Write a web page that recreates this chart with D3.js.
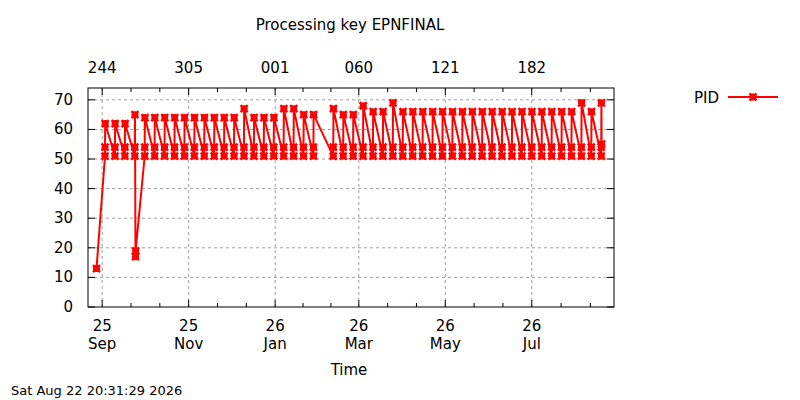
<!DOCTYPE html>
<html>
<head>
<meta charset="utf-8">
<script src="https://cdn.jsdelivr.net/npm/d3@7"></script>
<style>
  body { margin: 0; background: #fff; }
  text { font-family: "DejaVu Sans", sans-serif; fill: #000; }
</style>
</head>
<body>
<svg width="800" height="400"></svg>
<script>
// weekly processing cycles: start date + peak PID value
const cycleDates = [
  "2025-09-03", "2025-09-10", "2025-09-17", "2025-09-24", "2025-10-01", "2025-10-08",
  "2025-10-15", "2025-10-22", "2025-10-29", "2025-11-05", "2025-11-12", "2025-11-19",
  "2025-11-26", "2025-12-03", "2025-12-10", "2025-12-17", "2025-12-24", "2025-12-31",
  "2026-01-07", "2026-01-14", "2026-01-21", "2026-01-28", "2026-02-11", "2026-02-18",
  "2026-02-25", "2026-03-04", "2026-03-11", "2026-03-18", "2026-03-25", "2026-04-01",
  "2026-04-08", "2026-04-15", "2026-04-22", "2026-04-29", "2026-05-06", "2026-05-13",
  "2026-05-20", "2026-05-27", "2026-06-03", "2026-06-10", "2026-06-17", "2026-06-24",
  "2026-07-01", "2026-07-08", "2026-07-15", "2026-07-22", "2026-07-29", "2026-08-05",
  "2026-08-12", "2026-08-19"
];
const cyclePeaks = [
  62, 62, 62, 65, 64, 64,
  64, 64, 64, 64, 64, 64,
  64, 64, 67, 64, 64, 64,
  67, 67, 65, 65, 67, 65,
  65, 68, 66, 66, 69, 66,
  66, 66, 66, 66, 66, 66,
  66, 66, 66, 66, 66, 66,
  66, 66, 66, 66, 66, 69,
  66, 69
];
const lowValue = 51;
const midValue = 54;
const firstPoint = { date: "2025-08-28", value: 13 };
const dipPoints = [{ date: "2025-09-24T12:00", value: 17 }, { date: "2025-09-24T14:00", value: 19 }];
const endValue = 55;

const topTickLabels = ["244", "305", "001", "060", "121", "182"];
const bottomTickDates = ["2025-09-01", "2025-11-01", "2026-01-01", "2026-03-01", "2026-05-01", "2026-07-01"];
const yTicks = [0, 10, 20, 30, 40, 50, 60, 70];

// build the point list
const pts = [{ t: new Date(firstPoint.date), v: firstPoint.value }];
cycleDates.forEach((d, i) => {
  const t = new Date(d);
  pts.push({ t: t, v: lowValue });
  pts.push({ t: t, v: midValue });
  pts.push({ t: new Date(+t + 3600e3 * 3), v: cyclePeaks[i] });
  if (i == 3) dipPoints.forEach(p => pts.push({ t: new Date(p.date), v: p.value }));
});
pts.push({ t: new Date(+new Date(cycleDates[cycleDates.length - 1]) + 3600e3 * 6), v: endValue });

const svg = d3.select("svg");
const pLeft = 88, pRight = 614, pTop = 88, pBottom = 307;

const x = d3.scaleTime()
  .domain([new Date("2025-08-22"), new Date("2026-08-28")])
  .range([pLeft, pRight]);
const y = d3.scaleLinear().domain([0, 74]).range([pBottom, pTop]);

const majors = bottomTickDates.map(d => new Date(d));
const minors = [];
majors.forEach((m, i) => {
  const next = i < majors.length - 1 ? majors[i + 1] : d3.timeMonth.offset(m, 2);
  for (let k = 1; k < 3; k++) minors.push(new Date(+m + (next - m) * k / 3));
});
minors.unshift(new Date(+majors[0] - (majors[1] - majors[0]) / 3));

// grid
const grid = svg.append("g").attr("stroke", "#a0a0a0").attr("stroke-dasharray", "3,3").attr("stroke-width", 1);
majors.forEach(m => grid.append("line").attr("x1", x(m)).attr("x2", x(m)).attr("y1", pTop).attr("y2", pBottom));
yTicks.slice(1).forEach(v => grid.append("line").attr("x1", pLeft).attr("x2", pRight).attr("y1", y(v)).attr("y2", y(v)));

// ticks
const tk = svg.append("g").attr("stroke", "#000").attr("stroke-width", 1);
majors.forEach(m => {
  tk.append("line").attr("x1", x(m)).attr("x2", x(m)).attr("y1", pBottom).attr("y2", pBottom - 7);
  tk.append("line").attr("x1", x(m)).attr("x2", x(m)).attr("y1", pTop).attr("y2", pTop + 7);
});
minors.filter(m => x(m) > pLeft && x(m) < pRight).forEach(m => {
  tk.append("line").attr("x1", x(m)).attr("x2", x(m)).attr("y1", pBottom).attr("y2", pBottom - 4);
  tk.append("line").attr("x1", x(m)).attr("x2", x(m)).attr("y1", pTop).attr("y2", pTop + 4);
});
yTicks.forEach(v => {
  tk.append("line").attr("x1", pLeft).attr("x2", pLeft + 7).attr("y1", y(v)).attr("y2", y(v));
  tk.append("line").attr("x1", pRight).attr("x2", pRight - 7).attr("y1", y(v)).attr("y2", y(v));
});

svg.append("rect").attr("x", pLeft).attr("y", pTop).attr("width", pRight - pLeft).attr("height", pBottom - pTop)
  .attr("fill", "none").attr("stroke", "#000").attr("stroke-width", 1);

// labels
const fmtY = d3.timeFormat("%y"), fmtM = d3.timeFormat("%b");
majors.forEach((m, i) => {
  svg.append("text").attr("x", x(m)).attr("y", 331).attr("text-anchor", "middle").attr("font-size", 15).text(fmtY(m));
  svg.append("text").attr("x", x(m)).attr("y", 349).attr("text-anchor", "middle").attr("font-size", 15).text(fmtM(m));
  svg.append("text").attr("x", x(m)).attr("y", 73).attr("text-anchor", "middle").attr("font-size", 15).text(topTickLabels[i]);
});
yTicks.forEach(v => svg.append("text").attr("x", 73).attr("y", y(v) + 5).attr("text-anchor", "end").attr("font-size", 15).text(v));

svg.append("text").attr("x", 350).attr("y", 30).attr("text-anchor", "middle").attr("font-size", 15).text("Processing key EPNFINAL");
svg.append("text").attr("x", 349).attr("y", 375).attr("text-anchor", "middle").attr("font-size", 15).text("Time");
svg.append("text").attr("x", 11).attr("y", 395).attr("font-size", 13).text("Sat Aug 22 20:31:29 2026");

// series
const line = d3.line().x(d => x(d.t)).y(d => y(d.v));
svg.append("path").datum(pts).attr("d", line).attr("fill", "none").attr("stroke", "#ff0000").attr("stroke-width", 2);

function marker(g, cx, cy) {
  const s = 3.5;
  g.append("path")
    .attr("d", `M${cx - s},${cy}H${cx + s}M${cx},${cy - s}V${cy + s}M${cx - s},${cy - s}L${cx + s},${cy + s}M${cx - s},${cy + s}L${cx + s},${cy - s}`)
    .attr("stroke", "#ff0000").attr("stroke-width", 2.5).attr("fill", "none");
}
const mg = svg.append("g");
pts.forEach(d => marker(mg, x(d.t), y(d.v)));

// legend
svg.append("text").attr("x", 719).attr("y", 103).attr("text-anchor", "end").attr("font-size", 15).text("PID");
svg.append("line").attr("x1", 728).attr("x2", 778).attr("y1", 97).attr("y2", 97).attr("stroke", "#ff0000").attr("stroke-width", 2);
marker(svg, 753, 97);
</script>
</body>
</html>
